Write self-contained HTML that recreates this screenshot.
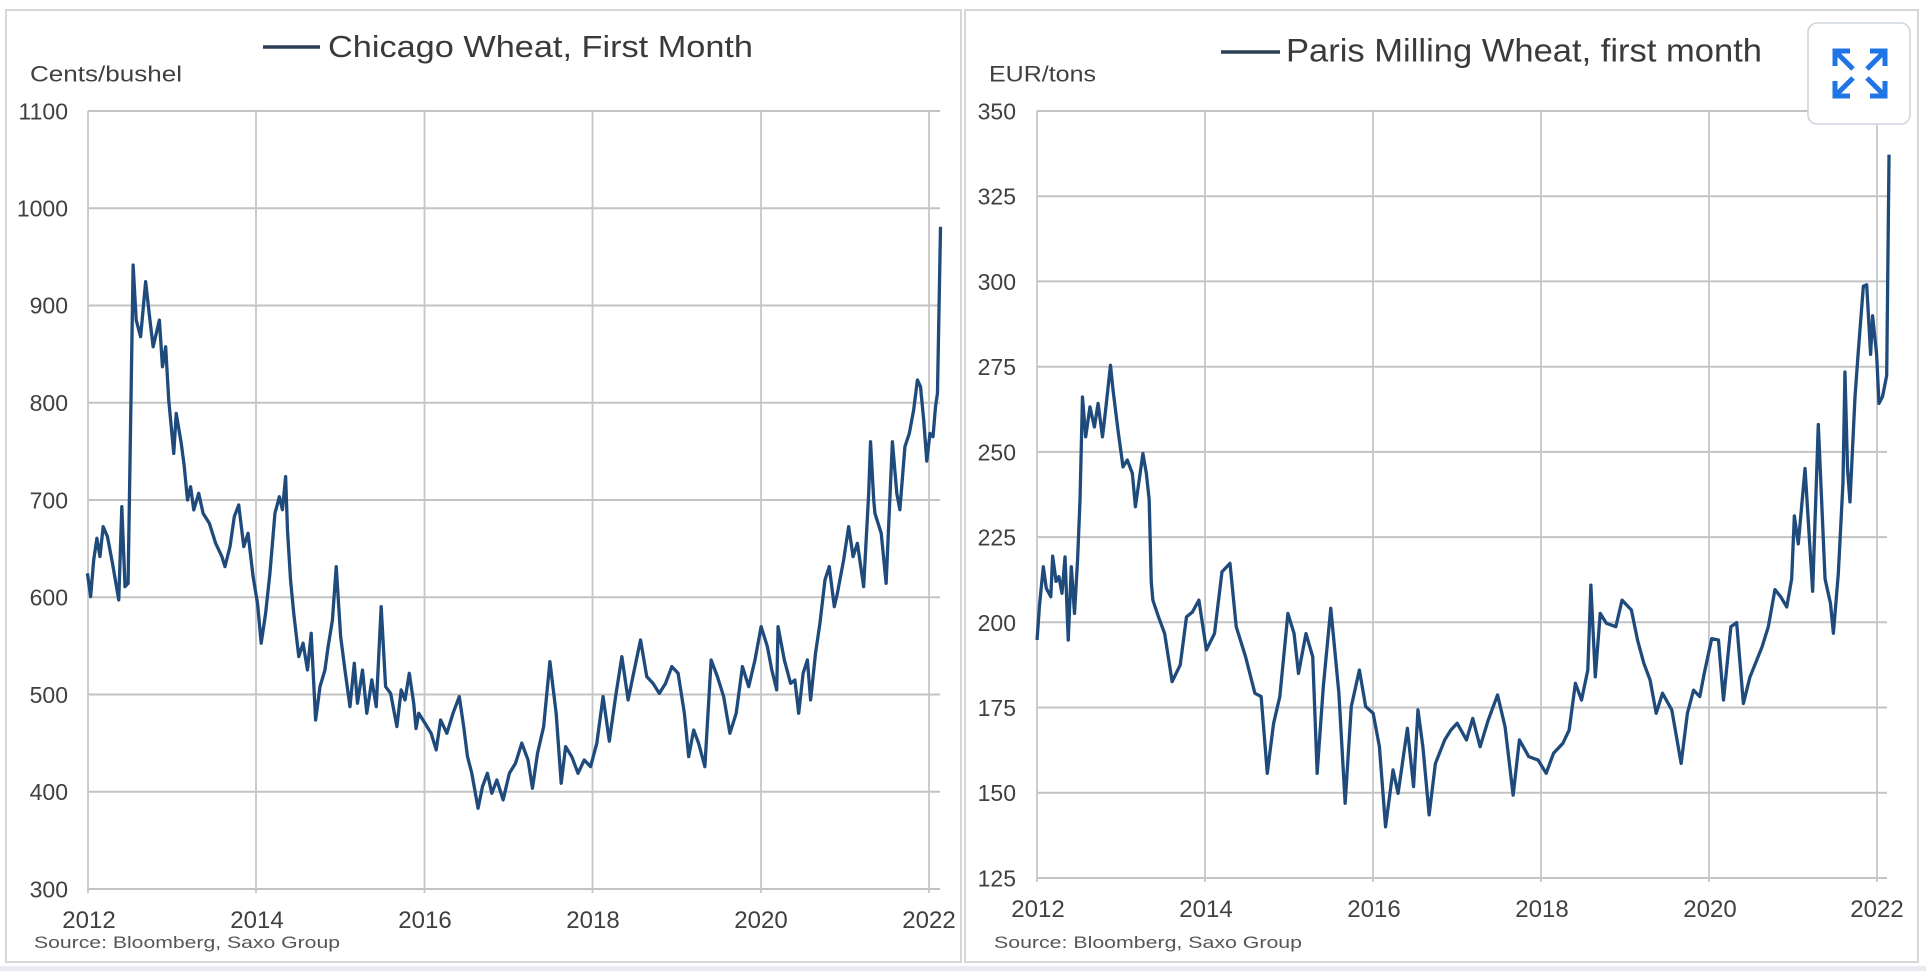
<!DOCTYPE html>
<html><head><meta charset="utf-8"><style>
html,body{margin:0;padding:0;background:#fff;}
svg{display:block;}
text{font-family:"Liberation Sans",Arial,sans-serif;fill:#404040;}
</style></head><body>
<svg width="1926" height="974" viewBox="0 0 1926 974" xmlns="http://www.w3.org/2000/svg">
<rect x="0" y="0" width="1926" height="974" fill="#fff"/>
<rect x="0" y="966" width="1926" height="5" fill="#e7ebf1"/>
<!-- panels -->
<rect x="6" y="10" width="955" height="952" fill="#fff" stroke="#d6d6d6" stroke-width="2"/>
<rect x="965" y="10" width="953" height="952" fill="#fff" stroke="#d6d6d6" stroke-width="2"/>

<!-- LEFT grid -->
<g stroke="#c3c3c3" stroke-width="2">
<line x1="88" y1="111" x2="940" y2="111"/>
<line x1="88" y1="208.3" x2="940" y2="208.3"/>
<line x1="88" y1="305.5" x2="940" y2="305.5"/>
<line x1="88" y1="402.8" x2="940" y2="402.8"/>
<line x1="88" y1="500" x2="940" y2="500"/>
<line x1="88" y1="597.3" x2="940" y2="597.3"/>
<line x1="88" y1="694.5" x2="940" y2="694.5"/>
<line x1="88" y1="791.8" x2="940" y2="791.8"/>
<line x1="88" y1="889" x2="940" y2="889"/>
</g>
<g stroke="#c6c6c6" stroke-width="1.8">
<line x1="88" y1="111" x2="88" y2="893"/>
<line x1="256" y1="111" x2="256" y2="893"/>
<line x1="424.5" y1="111" x2="424.5" y2="893"/>
<line x1="592.5" y1="111" x2="592.5" y2="893"/>
<line x1="761" y1="111" x2="761" y2="893"/>
<line x1="929" y1="111" x2="929" y2="893"/>
</g>
<g font-size="23" text-anchor="end">
<text x="68" y="119.5">1100</text>
<text x="68" y="216.5">1000</text>
<text x="68" y="313.5">900</text>
<text x="68" y="411">800</text>
<text x="68" y="508.5">700</text>
<text x="68" y="605.5">600</text>
<text x="68" y="703">500</text>
<text x="68" y="800">400</text>
<text x="68" y="897.5">300</text>
</g>
<g font-size="24" text-anchor="middle">
<text x="89" y="928">2012</text>
<text x="257" y="928">2014</text>
<text x="425" y="928">2016</text>
<text x="593" y="928">2018</text>
<text x="761" y="928">2020</text>
<text x="929" y="928">2022</text>
</g>
<text x="30" y="81.5" font-size="22" textLength="152" lengthAdjust="spacingAndGlyphs">Cents/bushel</text>
<line x1="263" y1="47" x2="320" y2="47" stroke="#2b3f57" stroke-width="3.5"/>
<text x="328" y="57" font-size="31" textLength="425" lengthAdjust="spacingAndGlyphs" style="fill:#3a3a3a">Chicago Wheat, First Month</text>
<text x="34" y="948" font-size="17" textLength="306" lengthAdjust="spacingAndGlyphs" style="fill:#555">Source: Bloomberg, Saxo Group</text>

<polyline fill="none" stroke="#1f4a7c" stroke-width="3.3" stroke-linejoin="round" vector-effect="non-scaling-stroke" transform="matrix(1.228 0 0 -0.9725 0 1180.75)" points="71.2,624.6 73.8,600.6 76.3,638.3 78.9,660.6 81.4,641.8 84,672.6 87.5,662.3 91.6,634.9 96.7,597.2 99.2,693.2 101.8,610.9 104.3,614.3 108.4,941.6 110.9,885 114.5,867.9 118.6,924.5 122.1,885 124.7,857.6 129.8,885 132.3,837 134.9,857.6 137.4,802.8 141.5,747.9 143.5,789 147.6,758.2 150,735 152.7,700 155.2,713.7 157.8,689.8 161.8,706.9 165.4,686.3 170.5,676 175.6,655.5 180.7,641.8 183.2,631.5 187.3,652.1 190.8,682.9 194.4,694.9 198.5,652.1 202,665.8 206.1,621.2 209.7,593.8 212.7,552.7 216.3,583.5 219.8,624.6 223.9,686.3 227.5,703.4 230,690 232.6,724 234.1,669.2 236.6,617.8 239.2,583.5 243.3,539 246.8,552.7 250.4,525.2 253.4,563 257,473.8 260.6,508.1 264.6,525.2 267.2,549.2 270.7,576.6 273.8,631.5 277.4,559.5 280.9,525.2 285,487.5 288.5,532.1 291.1,491 295.2,525.2 298.7,480.7 302.8,515 306.4,487.5 310.4,590.3 314,508.1 318.1,501.2 323.2,467 326.7,504.7 329.8,494.4 333.3,521.8 336.9,491 338.8,465 341,480.7 346.1,470.4 351.1,460.1 355.2,443 358.8,473.8 363.9,460.1 368.9,480.7 374,497.8 377.6,467 380.7,436.1 384.2,419 389.3,383 392.9,405.3 396.9,419 400.5,398.4 404.6,412.1 409.7,391.6 414.8,419 419.8,429.3 424.9,450 430,432.7 433.6,403.6 437.7,439.5 442.7,467 447.8,533.8 452.9,480.7 457,408.7 460.6,446.4 465.6,436.1 470.7,419 475.8,432.7 480.9,425.8 486,449.8 491.1,497.8 496.2,452 501.3,497.8 506.4,538.9 511.5,494.4 516.5,525.2 521.6,556.1 526.7,518.4 531.8,511.5 536.9,501.2 542,511.5 547.1,528.7 552.2,521.8 557.3,480.7 560.8,436.1 564.9,463.5 568.9,449.8 574,425.8 579.1,535.5 584.2,518.4 589.3,497.8 594.4,460.1 599.5,480.7 604.6,528.7 609.7,508.1 614.8,535.5 619.8,569.8 624.9,549.2 628.5,525.2 632.5,504.7 633.6,569.8 638.7,535.5 643.8,511.5 647.3,514.9 650.4,480.7 654,521.8 657.5,535.5 660.1,494.4 664.1,542.4 667.7,573.2 671.8,617.8 675.3,631.5 679.4,590.3 681.9,604 687,638.3 691.1,672.6 694.7,641.8 698.2,655.5 703.3,610.9 707.4,706.9 708.9,759.9 711.5,700 712.5,686.3 717.6,665.8 721.6,614.3 726.7,759.9 730.3,706.8 732.8,690 736.9,754.8 740.5,768.5 744,792.5 747.1,823.4 749.6,816.5 752.2,782.2 754.7,740 757.3,768.5 759.8,765.1 761.8,795.9 763.4,809.6 765.9,981"/>

<!-- RIGHT grid -->
<g stroke="#c3c3c3" stroke-width="2">
<line x1="1037" y1="111" x2="1887" y2="111"/>
<line x1="1037" y1="196.2" x2="1887" y2="196.2"/>
<line x1="1037" y1="281.4" x2="1887" y2="281.4"/>
<line x1="1037" y1="366.7" x2="1887" y2="366.7"/>
<line x1="1037" y1="451.9" x2="1887" y2="451.9"/>
<line x1="1037" y1="537.1" x2="1887" y2="537.1"/>
<line x1="1037" y1="622.3" x2="1887" y2="622.3"/>
<line x1="1037" y1="707.5" x2="1887" y2="707.5"/>
<line x1="1037" y1="792.8" x2="1887" y2="792.8"/>
<line x1="1037" y1="878" x2="1887" y2="878"/>
</g>
<g stroke="#c6c6c6" stroke-width="1.8">
<line x1="1037" y1="111" x2="1037" y2="882"/>
<line x1="1205" y1="111" x2="1205" y2="882"/>
<line x1="1373" y1="111" x2="1373" y2="882"/>
<line x1="1541" y1="111" x2="1541" y2="882"/>
<line x1="1709" y1="111" x2="1709" y2="882"/>
<line x1="1877" y1="111" x2="1877" y2="882"/>
</g>
<g font-size="23" text-anchor="end">
<text x="1016" y="119.5">350</text>
<text x="1016" y="204.5">325</text>
<text x="1016" y="290">300</text>
<text x="1016" y="375">275</text>
<text x="1016" y="460.5">250</text>
<text x="1016" y="545.5">225</text>
<text x="1016" y="631">200</text>
<text x="1016" y="716">175</text>
<text x="1016" y="801">150</text>
<text x="1016" y="886.5">125</text>
</g>
<g font-size="24" text-anchor="middle">
<text x="1038" y="917">2012</text>
<text x="1206" y="917">2014</text>
<text x="1374" y="917">2016</text>
<text x="1542" y="917">2018</text>
<text x="1710" y="917">2020</text>
<text x="1877" y="917">2022</text>
</g>
<text x="989" y="81.5" font-size="22" textLength="107" lengthAdjust="spacingAndGlyphs">EUR/tons</text>
<line x1="1221" y1="52" x2="1280" y2="52" stroke="#2b3f57" stroke-width="3.5"/>
<text x="1286" y="61.5" font-size="32" textLength="476" lengthAdjust="spacingAndGlyphs" style="fill:#3a3a3a">Paris Milling Wheat, first month</text>
<text x="994" y="948" font-size="17" textLength="308" lengthAdjust="spacingAndGlyphs" style="fill:#555">Source: Bloomberg, Saxo Group</text>

<polyline fill="none" stroke="#1f4a7c" stroke-width="3.3" stroke-linejoin="round" vector-effect="non-scaling-stroke" transform="matrix(1.228 0 0 -3.409 0 1304.1)" points="844.5,194.8 846.5,205 849.6,216.3 852,210 855.7,207.5 857.2,219.4 860,212 862.3,213.4 864.8,208.5 867.3,219.2 869.9,194.8 872.4,216.3 875,202.6 877.5,218.3 879.5,236 881.5,266.1 884.1,254.4 887.6,263.2 891.2,257.3 894.2,264.2 897.8,254.4 900.3,262.2 904.3,275.4 906.4,268.1 910.4,256.4 914.5,245.6 918,247.6 922.1,243.7 924.6,233.9 927,240 930.7,249.5 933.5,243.7 935.8,236 937.5,212 938.8,206.5 943.4,201.6 948.4,196.7 954.5,182.6 961.1,187.5 966.2,201.6 971,203 976.3,206.5 982.4,191.9 989,196.7 995.1,214.8 1001.6,217.3 1006.7,198.7 1014.3,189.9 1021.9,179.2 1027,178.2 1032,155.7 1037.1,170.3 1042.2,178.2 1048.8,202.6 1053.8,196.7 1057.4,185 1063.5,196.7 1069,189.9 1072.6,155.7 1077.6,181.1 1083.7,204.1 1090.3,179.2 1095.4,146.9 1100.4,175.3 1107,186 1112.1,175.3 1118.2,173.3 1123.3,163.5 1128.3,140 1134.4,156.7 1138.5,149.8 1146.1,168.9 1151.1,151.8 1154.7,174.3 1158.7,163.5 1163.8,143.5 1168.9,158.6 1176.5,165.5 1181.5,168.4 1186.6,170.4 1194.2,165.5 1199.3,171.8 1205.3,163.5 1211.9,171.3 1219.5,178.7 1225.6,169.4 1232.2,149.3 1237.3,165.5 1244.9,160.6 1252.5,159.6 1259.1,155.7 1265.1,161.6 1272.7,164.5 1277.8,168.4 1282.9,182.1 1287.9,177.2 1293,186 1295.5,210.9 1299.1,184 1303.1,202.6 1308.2,199.7 1315.8,198.7 1320.9,206.5 1328.5,203.6 1333.5,194.8 1338.6,188 1343.7,183.1 1348.7,173.3 1353.8,179.2 1361.4,174.3 1369,158.6 1374.1,173.3 1379.1,180.1 1384.2,178.2 1387.8,185 1393.9,195.2 1399.4,194.8 1403.5,177.2 1409.5,198.7 1414.2,199.9 1419.7,176.2 1425,183.9 1434.9,192.8 1440,198.7 1445.4,209.6 1450.1,207.5 1455,204.5 1459,212.7 1461.2,231.2 1464.4,223 1469.9,245.1 1476.1,209.1 1480.7,258 1486.2,212.7 1490.6,205.6 1493,196.8 1497,214.3 1500.8,241 1502.4,273.4 1504.5,245 1506.5,235.3 1510.6,266.2 1513.3,279.6 1517.4,298.6 1520.1,299 1523.3,278.6 1524.9,289.9 1528.2,278.6 1530.1,264.2 1533,266.2 1536.4,272.4 1538.3,337.2"/>

<!-- expand button -->
<rect x="1808" y="23" width="102" height="101" rx="9" fill="#fff" stroke="#cfd5de" stroke-width="1.6"/>
<g stroke="#1f74e6" stroke-width="5" fill="none" stroke-linecap="butt" stroke-linejoin="miter">
<path d="M1835 66 L1835 51 L1850 51"/>
<path d="M1836 52 L1853 69"/>
<path d="M1870 51 L1885 51 L1885 66"/>
<path d="M1884 52 L1867 69"/>
<path d="M1835 81 L1835 96 L1850 96"/>
<path d="M1836 95 L1853 78"/>
<path d="M1870 96 L1885 96 L1885 81"/>
<path d="M1884 95 L1867 78"/>
</g>
</svg>
</body></html>
